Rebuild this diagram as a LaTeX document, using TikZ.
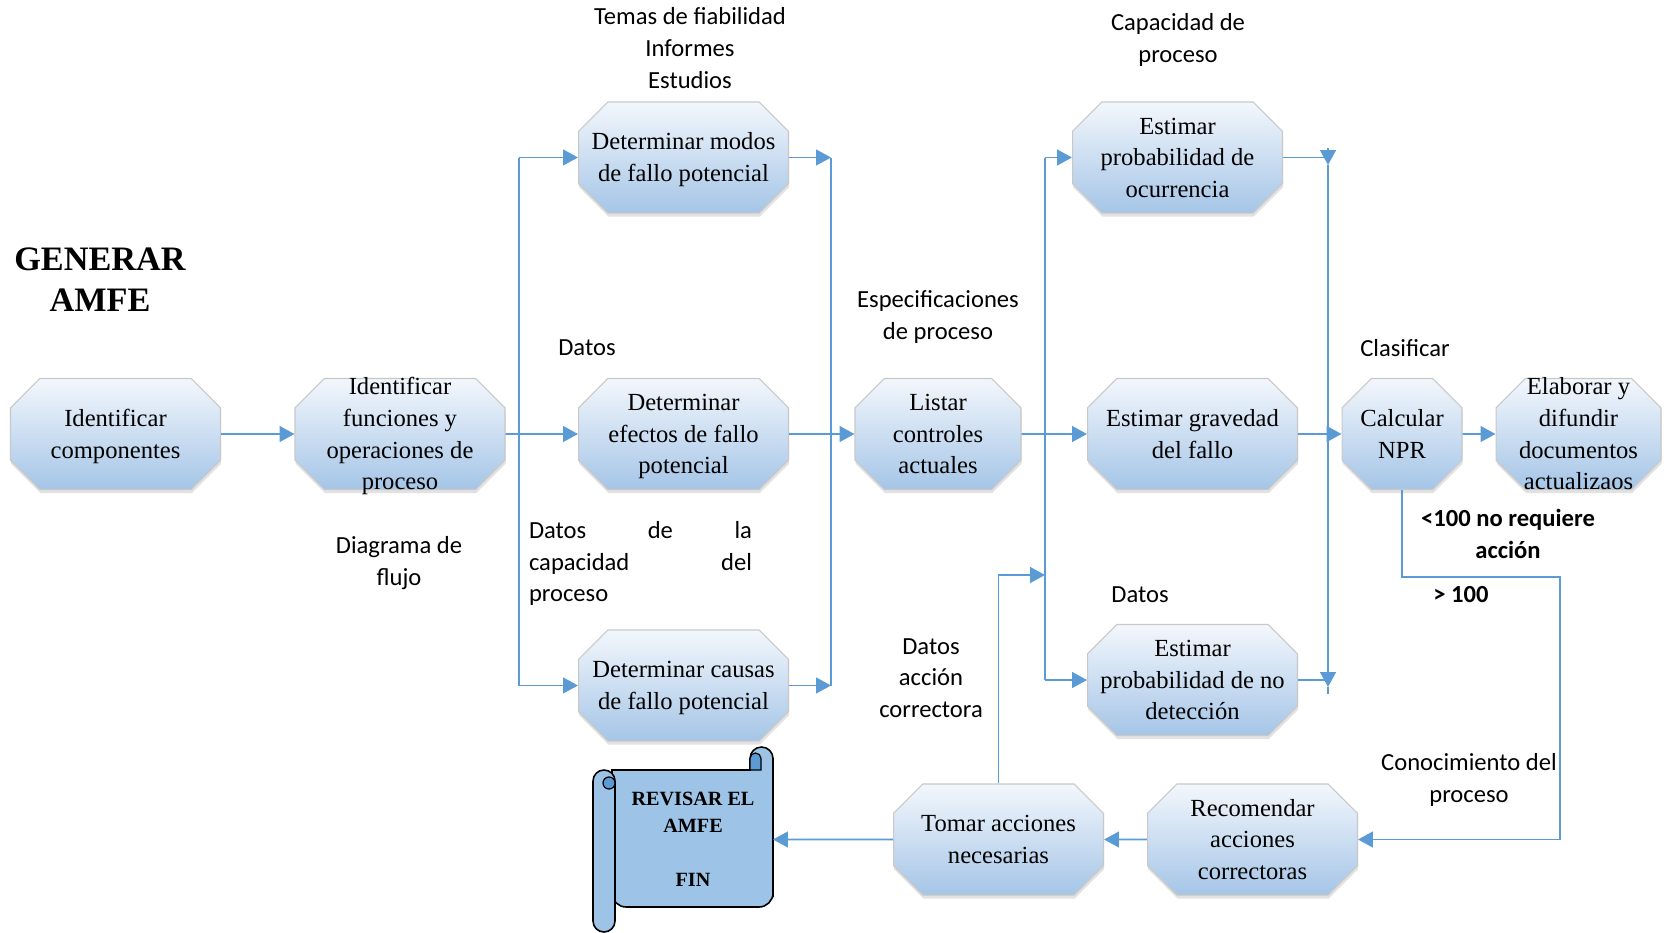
\documentclass[tikz,border=0pt]{standalone}
\usepackage{fontspec}
\setmainfont{Liberation Serif}
\newfontfamily\calfont{Carlito}
\usetikzlibrary{shapes.misc,shadows,arrows.meta}

\definecolor{flowblue}{RGB}{91,155,213}
\definecolor{boxgray}{RGB}{200,200,200}
\definecolor{boxtop}{RGB}{243,247,252}
\definecolor{boxbottom}{RGB}{165,197,231}
\definecolor{scrollblue}{RGB}{157,195,230}

% box text, centred on its own middle
\newcommand{\btxt}[1]{\begin{tabular}{@{}c@{}}#1\end{tabular}}

\tikzset{
  proc/.style={chamfered rectangle, chamfered rectangle xsep=0.32cm,
    chamfered rectangle ysep=0.42cm, draw=boxgray, line width=0.6pt,
    top color=boxtop, bottom color=boxbottom,
    minimum width=4.2cm, minimum height=2.22cm, inner sep=0pt,
    font=\fontsize{14}{18}\selectfont, text height=9.4pt, text depth=0pt,
    drop shadow={shadow xshift=0.4pt, shadow yshift=-2pt, opacity=0.25, fill=black!45}},
  lbl/.style={font=\calfont\fontsize{14}{18}\selectfont, align=center, inner sep=0pt},
  line/.style={draw=flowblue, line width=1.1pt},
  arr/.style={line, -{Triangle[length=8.5pt,width=9pt]}, color=flowblue}
}

\begin{document}
\begin{tikzpicture}[x=0.02cm, y=0.02cm]
  \useasboundingbox (0,0) rectangle (1670,-933);

  % boxes
  \node[proc] (comp) at (115.5,-434) {\btxt{Identificar\\componentes}};
  \node[proc] (func) at (400,-434) {\btxt{Identificar\\funciones y\\operaciones de\\proceso}};
  \node[proc] (modos) at (683.5,-157.5) {\btxt{Determinar modos\\de fallo potencial}};
  \node[proc] (efectos) at (683.5,-434) {\btxt{Determinar\\efectos de fallo\\potencial}};
  \node[proc] (causas) at (683.5,-685.5) {\btxt{Determinar causas\\de fallo potencial}};
  \node[proc, minimum width=3.32cm] (listar) at (938,-434) {\btxt{Listar\\controles\\actuales}};
  \node[proc] (ocurr) at (1177.5,-157.5) {\btxt{Estimar\\probabilidad de\\ocurrencia}};
  \node[proc] (grav) at (1192.5,-434) {\btxt{Estimar gravedad\\del fallo}};
  \node[proc] (nodet) at (1192.5,-680) {\btxt{Estimar\\probabilidad de no\\detección}};
  \node[proc, minimum width=2.4cm] (npr) at (1402,-434) {\btxt{Calcular\\NPR}};
  \node[proc, minimum width=3.3cm] (elab) at (1578.5,-434) {\btxt{Elaborar y\\difundir\\documentos\\actualizaos}};
  \node[proc] (recom) at (1252.5,-839.5) {\btxt{Recomendar\\acciones\\correctoras}};
  \node[proc] (tomar) at (998.5,-839.5) {\btxt{Tomar acciones\\necesarias}};

  % scroll
  \filldraw[fill=scrollblue, line width=0.9pt] (612,-770) -- (750,-770) -- (750,-758.5)
    arc (180:0:11.5) -- (773,-897) [rounded corners=8pt] -- (773,-907) -- (612,-907) [sharp corners] -- cycle;
  \filldraw[fill=flowblue, line width=0.7pt] (750,-770) -- (750,-758.5) arc (180:0:5.5) -- (761,-770) -- cycle;
  \filldraw[fill=scrollblue, line width=0.9pt] (593,-781) arc (180:0:11) -- (615,-921) arc (0:-180:11) -- cycle;
  \filldraw[fill=flowblue, line width=0.7pt] (609,-783) circle (6);
  \node[font=\bfseries\fontsize{11.5}{15.3}\selectfont, align=center] (rev-text) at (693,-839)
    {REVISAR EL\\AMFE\\[15.3pt]FIN};
  \coordinate (rev) at (773,-839.5);

  % texts
  \node[font=\bfseries\fontsize{19.5}{23.5}\selectfont, align=center] (titulo) at (100,-280) {GENERAR\\AMFE};
  \node[lbl] (temas) at (690,-48) {Temas de fiabilidad\\Informes\\Estudios};
  \node[lbl] (capac) at (1178,-40) {Capacidad de\\proceso};
  \node[lbl] (datos1) at (587,-348) {Datos};
  \node[lbl] (espec) at (938,-317) {Especificaciones\\de proceso};
  \node[lbl] (clasif) at (1405,-348) {Clasificar};
  \node[lbl] (diagr) at (399,-563) {Diagrama de\\flujo};
  \node[lbl, align=left, text width=4.46cm] (datos2) at (640.5,-563.5)
    {Datos\hfill de\hfill la\\capacidad\hfill del\\proceso};
  \node[lbl] (datos3) at (1140,-595) {Datos};
  \node[lbl] (datos4) at (931,-678) {Datos\\acción\\correctora};
  \node[lbl, font=\calfont\bfseries\fontsize{14}{18}\selectfont] (menor) at (1508,-534) {<100 no requiere\\acción};
  \node[lbl, font=\calfont\bfseries\fontsize{14}{18}\selectfont] (mayor) at (1461,-595) {> 100};
  \node[lbl] (conoc) at (1469,-780) {Conocimiento del\\proceso};

  % bus coordinates
  \coordinate (b1t) at (519,-157.5);
  \coordinate (b1b) at (519,-685.5);
  \coordinate (b2t) at (831,-157.5);
  \coordinate (b2b) at (831,-685.5);
  \coordinate (b3t) at (1045,-157.5);
  \coordinate (b3b) at (1045,-680);
  \coordinate (b3r) at (1045,-575);
  \coordinate (b4a) at (1328,-148);
  \coordinate (b4b) at (1328,-165);
  \coordinate (b4c) at (1328,-687);
  \coordinate (b4d) at (1328,-694);
  \coordinate (fb1) at (1560,-577);

  % connectors
  \draw[arr] (comp) -- (func);
  \draw[arr] (func) -- (efectos);
  \draw[line] (b1t) -- (b1b);
  \draw[arr] (b1t) -- (modos.west);
  \draw[arr] (b1b) -- (causas.west);
  \draw[arr] (modos.east) -- (b2t);
  \draw[arr] (causas.east) -- (b2b);
  \draw[line] (b2t) -- (b2b);
  \draw[arr] (efectos) -- (listar);
  \draw[line] (b3t) -- (b3b);
  \draw[arr] (b3t) -- (ocurr.west);
  \draw[arr] (listar) -- (grav);
  \draw[arr] (b3b) -- (nodet.west);
  \draw[arr] (tomar.north) |- (b3r);
  \draw[line] (ocurr.east) -- (ocurr.east -| b4a);
  \draw[line] (nodet.east) -- (nodet.east -| b4a);
  \draw[arr] (b4a) -- (b4b);
  \draw[arr] (b4b) -- (b4c);
  \draw[line] (b4c) -- (b4d);
  \draw[arr] (grav) -- (npr);
  \draw[arr] (npr) -- (elab);
  \draw[arr] (npr.south) |- (fb1) |- (recom.east);
  \draw[arr] (recom) -- (tomar);
  \draw[arr] (tomar) -- (rev);
\end{tikzpicture}
\end{document}
